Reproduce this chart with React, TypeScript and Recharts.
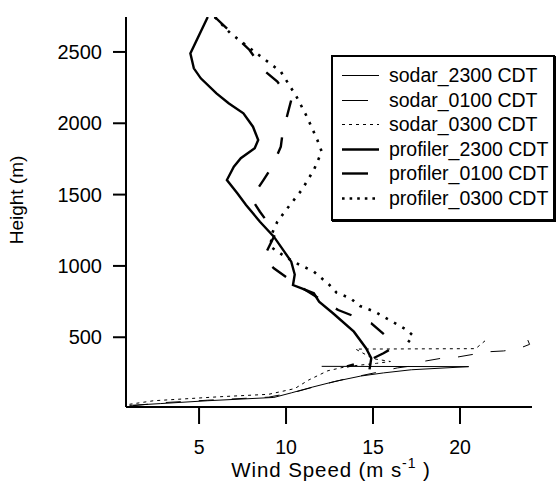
import React from 'react';
import { ScatterChart, Scatter, XAxis, YAxis, Legend } from 'recharts';

const FONT = '"Liberation Sans", Arial, Helvetica, sans-serif';

// ---- data (wind speed m/s, height m) ----
const sodar2300Speed = [1.0, 2.8, 5.5, 9.3, 10.3, 11.5, 12.8, 14.3, 15.6, 17.2, 20.5, 12.05];
const sodar2300Height = [22, 35, 55, 78, 110, 150, 190, 228, 250, 272, 294, 296];

const sodar0100Speed = [1.2, 3.0, 6.0, 9.0, 10.5, 12.0, 13.5, 15.0, 16.4, 17.3, 18.0, 18.9, 19.8, 20.8, 21.6, 22.5, 23.3, 24.0, 23.9];
const sodar0100Height = [20, 42, 62, 80, 115, 165, 210, 248, 285, 300, 333, 352, 360, 381, 398, 404, 417, 450, 480];

const sodar0300Speed = [1.0, 2.4, 6.2, 9.0, 10.5, 11.3, 12.4, 13.5, 15.2, 16.0, 15.0, 14.0, 20.9, 21.5];
const sodar0300Height = [30, 55, 83, 100, 140, 200, 265, 295, 317, 330, 350, 417, 420, 481];

const profiler2300Speed = [5.5, 4.5, 4.7, 5.1, 6.0, 6.7, 7.55, 8.1, 8.4, 8.2, 7.4, 7.0, 6.6, 7.2, 7.7, 8.5, 9.3, 9.9, 10.3, 10.5, 10.4, 10.9, 11.6, 11.9, 12.7, 13.9, 14.6, 14.9, 14.8];
const profiler2300Height = [2745, 2490, 2385, 2315, 2210, 2140, 2070, 1976, 1883, 1825, 1755, 1696, 1602, 1509, 1427, 1310, 1205, 1100, 1030, 940, 866, 843, 808, 749, 668, 539, 423, 353, 275];

const profiler0100Speed = [5.9, 7.2, 7.9, 8.7, 9.5, 10.3, 10.1, 9.8, 9.7, 9.2, 8.7, 8.0, 8.5, 9.4, 8.7, 9.3, 10.6, 12.2, 13.0, 14.2, 14.9, 16.0, 16.1, 15.6, 14.8, 13.5];
const profiler0100Height = [2745, 2596, 2514, 2374, 2292, 2163, 2070, 1930, 1836, 1696, 1602, 1474, 1380, 1229, 1054, 983, 870, 749, 691, 633, 598, 481, 423, 388, 340, 295];

const profiler0300Speed = [5.9, 6.8, 8.3, 9.7, 10.6, 11.2, 11.8, 12.05, 11.6, 10.9, 10.0, 9.5, 9.2, 9.1, 10.0, 10.6, 11.6, 12.05, 12.5, 12.9, 13.7, 14.25, 15.1, 15.6, 16.45, 16.95, 17.3, 16.9];
const profiler0300Height = [2745, 2631, 2491, 2362, 2187, 2046, 1883, 1801, 1673, 1532, 1392, 1310, 1229, 1135, 1060, 1019, 960, 913, 866, 813, 773, 719, 679, 644, 586, 551, 511, 445];

const xTicks = [5, 10, 15, 20];
const yTicks = [500, 1000, 1500, 2000, 2500];

const toPoints = (speeds: number[], heights: number[]) =>
  speeds.map((s, i) => ({ speed: s, height: heights[i] }));

const series = [
  { name: 'sodar_2300 CDT', data: toPoints(sodar2300Speed, sodar2300Height), width: 1, dash: undefined, legendDash: undefined },
  { name: 'sodar_0100 CDT', data: toPoints(sodar0100Speed, sodar0100Height), width: 1, dash: '15 18', legendDash: '26 20' },
  { name: 'sodar_0300 CDT', data: toPoints(sodar0300Speed, sodar0300Height), width: 1, dash: '3 4', legendDash: '3 4' },
  { name: 'profiler_2300 CDT', data: toPoints(profiler2300Speed, profiler2300Height), width: 2.4, dash: undefined, legendDash: undefined },
  { name: 'profiler_0100 CDT', data: toPoints(profiler0100Speed, profiler0100Height), width: 2.4, dash: '17 21', legendDash: '26 20' },
  { name: 'profiler_0300 CDT', data: toPoints(profiler0300Speed, profiler0300Height), width: 2.6, dash: '2.6 7', legendDash: '2.6 5' },
];

const LegendBox = () => (
  <div
    style={{
      width: 224,
      height: 166,
      boxSizing: 'border-box',
      border: '2px solid #000',
      boxShadow: '1px 1px 0 #000',
      background: '#fff',
      position: 'relative',
      fontFamily: FONT,
      fontSize: 19.5,
      color: '#000',
    }}
  >
    {series.map((s, i) => (
      <div
        key={s.name}
        style={{ position: 'absolute', left: 0, top: 6 + i * 24.6, height: 24.6, width: 220 }}
      >
        <svg width={40} height={24} style={{ position: 'absolute', left: 9, top: 0 }}>
          <line x1={0} x2={37} y1={12.5} y2={12.5} stroke="#000" strokeWidth={s.width} strokeDasharray={s.legendDash} />
        </svg>
        <span style={{ position: 'absolute', left: 56, top: 0, lineHeight: '24.6px', whiteSpace: 'nowrap' }}>{s.name}</span>
      </div>
    ))}
  </div>
);

const WindLabel = (props: any) => {
  const vb = props.viewBox || { x: 126, y: 407, width: 406, height: 78 };
  const cx = vb.x + vb.width / 2 + 2;
  return (
    <text x={cx} y={477} textAnchor="middle" fontSize={20.5} fontFamily={FONT} fill="#000" letterSpacing={0.9}>
      Wind Speed (m s
      <tspan dy={-9} fontSize={14}>-1</tspan>
      <tspan dy={9}> )</tspan>
    </text>
  );
};

const HeightLabel = (props: any) => {
  const vb = props.viewBox || { x: 0, y: 17, width: 126, height: 390 };
  const cy = vb.y + vb.height / 2 - 12;
  const x = 23;
  return (
    <text x={x} y={cy} transform={`rotate(-90, ${x}, ${cy})`} textAnchor="middle" fontSize={19} fontFamily={FONT} fill="#000">
      Height (m)
    </text>
  );
};

export default function App() {
  return (
    <div style={{ position: 'absolute', left: 0, top: 0, width: 556, height: 485, background: '#fff' }}>
      <ScatterChart width={556} height={485} margin={{ top: 17, right: 24, bottom: 0, left: 0 }}>
        <XAxis
          type="number"
          dataKey="speed"
          domain={[0.8, 24.14]}
          ticks={xTicks}
          interval={0}
          allowDataOverflow
          height={78}
          tickSize={17}
          tickMargin={16}
          axisLine={{ stroke: '#000', strokeWidth: 2 }}
          tickLine={{ stroke: '#000', strokeWidth: 2 }}
          tick={{ fill: '#000', fontSize: 19.5, fontFamily: FONT }}
          label={{ content: WindLabel }}
        />
        <YAxis
          type="number"
          dataKey="height"
          domain={[11, 2745]}
          ticks={yTicks}
          interval={0}
          allowDataOverflow
          width={126}
          tickSize={13}
          tickMargin={11}
          axisLine={{ stroke: '#000', strokeWidth: 2 }}
          tickLine={{ stroke: '#000', strokeWidth: 2 }}
          tick={{ fill: '#000', fontSize: 20, fontFamily: FONT }}
          label={{ content: HeightLabel }}
        />
        <Legend
          layout="vertical"
          align="center"
          verticalAlign="middle"
          content={() => <LegendBox />}
          wrapperStyle={{ left: 331, top: 55, width: 224, height: 166, position: 'absolute' }}
        />
        {series.map((s) => (
          <Scatter
            key={s.name}
            name={s.name}
            data={s.data}
            fill="#000"
            line={{ stroke: '#000', strokeWidth: s.width, strokeDasharray: s.dash, fill: 'none' }}
            lineJointType="linear"
            shape={() => <g />}
            isAnimationActive={false}
          />
        ))}
      </ScatterChart>
    </div>
  );
}
